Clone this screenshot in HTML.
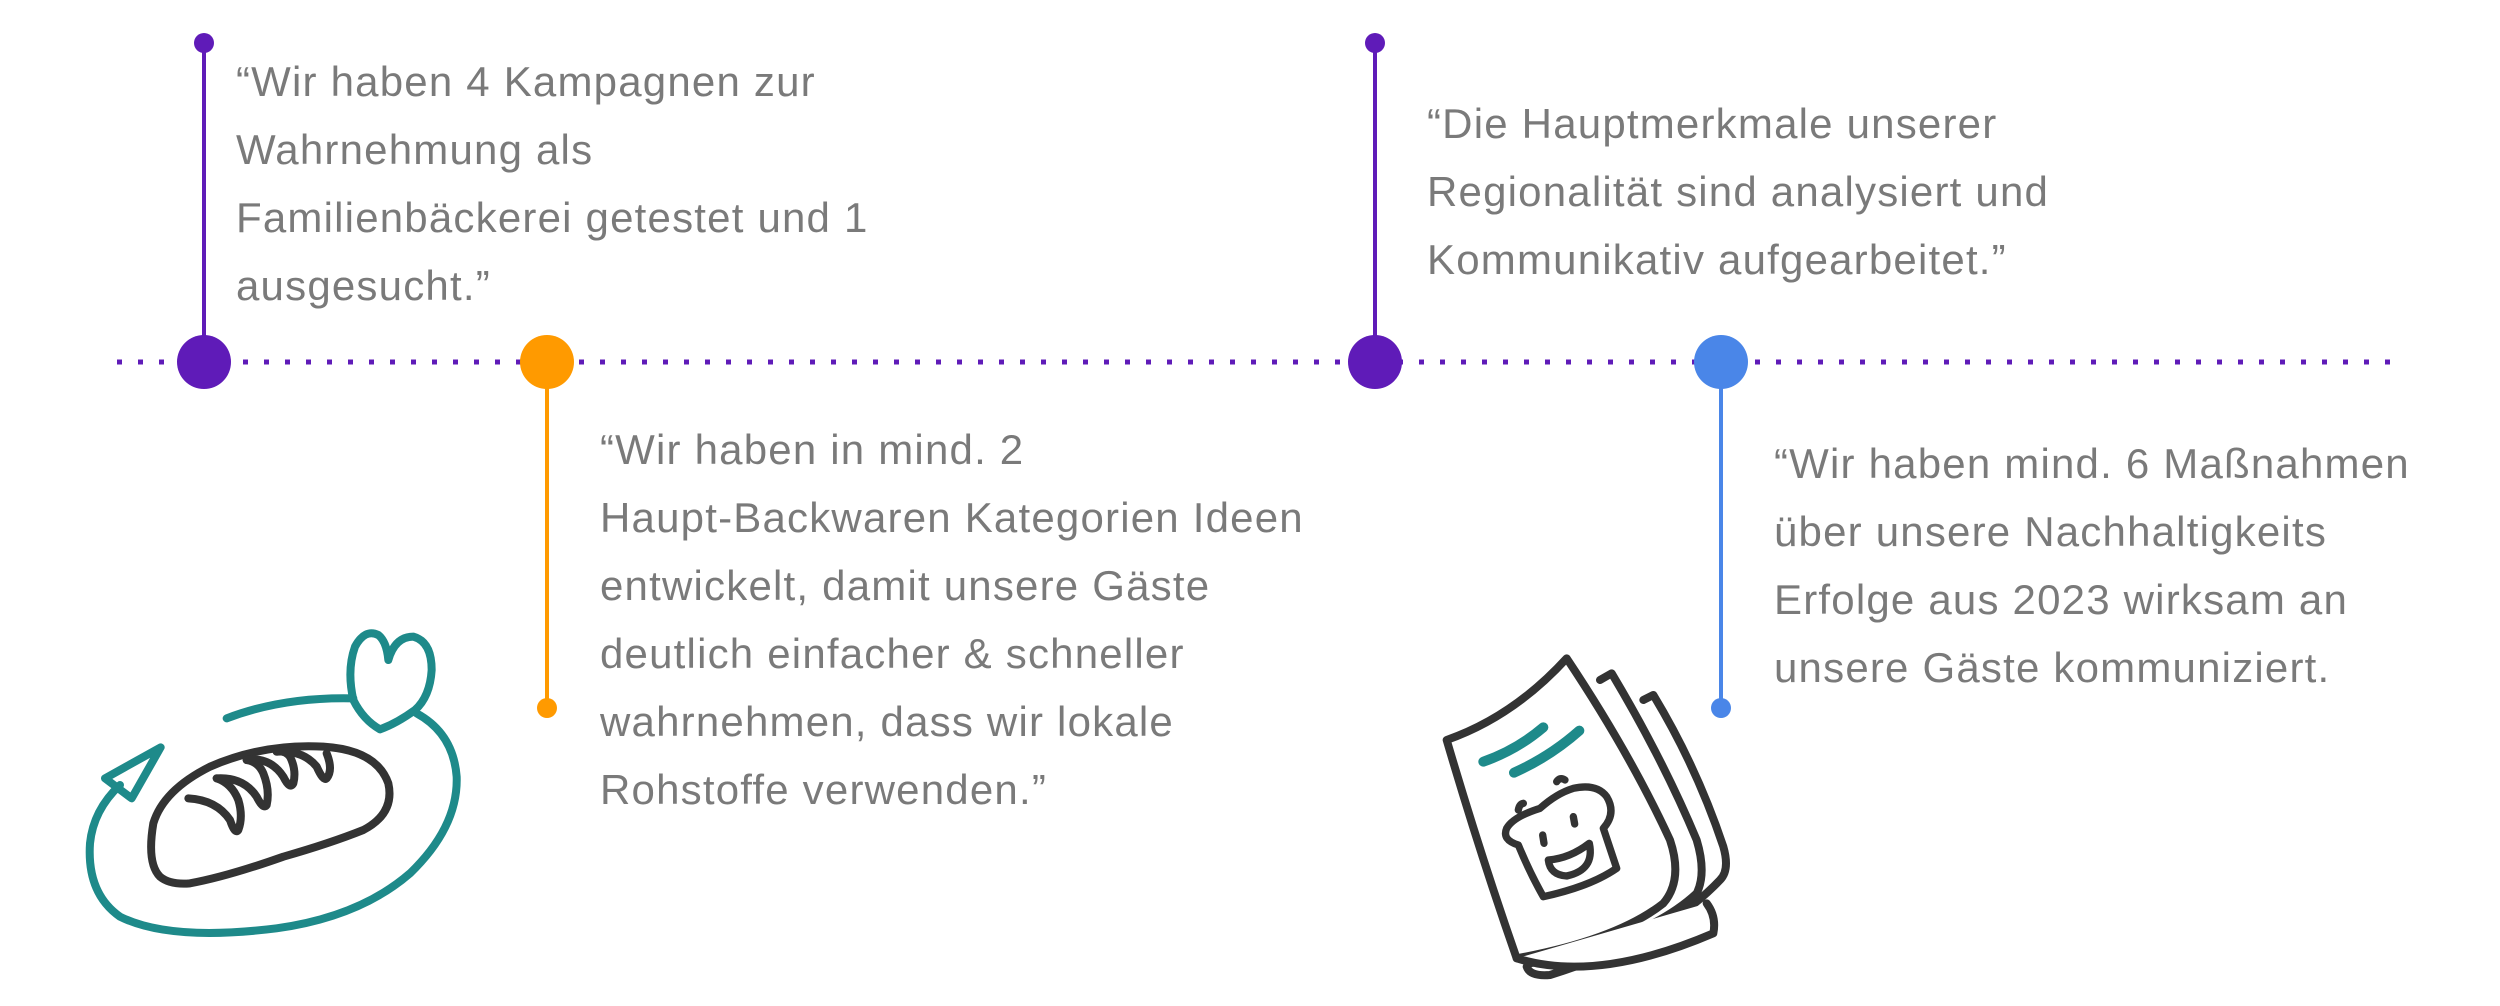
<!DOCTYPE html>
<html><head><meta charset="utf-8">
<style>
html,body{margin:0;padding:0;background:#fff;}
#c{position:relative;width:2500px;height:1006px;overflow:hidden;background:#fff;}
.t{position:absolute;font-family:"Liberation Sans",sans-serif;font-size:42px;letter-spacing:1.2px;line-height:68px;color:#7a7a7a;white-space:nowrap;}
svg{position:absolute;left:0;top:0;}
</style></head><body><div id="c">
<svg width="2500" height="1006" viewBox="0 0 2500 1006">
  <line x1="117" y1="362" x2="2392" y2="362" stroke="#5f1bb8" stroke-width="5" stroke-dasharray="5 16"/>
  <line x1="204" y1="43" x2="204" y2="362" stroke="#5f1bb8" stroke-width="4"/>
  <circle cx="204" cy="43" r="10" fill="#5f1bb8"/>
  <circle cx="204" cy="362" r="27" fill="#5f1bb8"/>
  <line x1="547" y1="362" x2="547" y2="708" stroke="#ff9a00" stroke-width="4"/>
  <circle cx="547" cy="708" r="10" fill="#ff9a00"/>
  <circle cx="547" cy="362" r="27" fill="#ff9a00"/>
  <line x1="1375" y1="43" x2="1375" y2="362" stroke="#5f1bb8" stroke-width="4"/>
  <circle cx="1375" cy="43" r="10" fill="#5f1bb8"/>
  <circle cx="1375" cy="362" r="27" fill="#5f1bb8"/>
  <line x1="1721" y1="362" x2="1721" y2="708" stroke="#4a86e8" stroke-width="4"/>
  <circle cx="1721" cy="708" r="10" fill="#4a86e8"/>
  <circle cx="1721" cy="362" r="27" fill="#4a86e8"/>
</svg>

<svg style="left:70px;top:610px" width="420" height="340" viewBox="0 0 1260 1020">
  <g fill="none" stroke="#1e8a8a" stroke-width="24" stroke-linecap="round" stroke-linejoin="round">
    <path d="M470,325 Q640,260 850,265"/>
    <path d="M850,270 Q830,180 855,110 Q885,55 925,75 Q950,95 955,150 Q975,80 1030,80 Q1085,95 1085,180 Q1080,260 1035,300 Q980,340 930,358 Q880,330 850,270 Z"/>
    <path d="M1040,310 Q1150,370 1160,500 Q1165,650 1020,790 Q870,920 620,955 Q300,995 150,920 Q50,850 60,700 Q70,600 150,525"/>
    <path d="M105,505 L272,412 L185,565 Z"/>
  </g>
  <g fill="none" stroke="#333" stroke-width="24" stroke-linecap="round" stroke-linejoin="round">
    <path d="M270,800 Q230,760 250,640 Q280,540 420,470 Q580,400 760,410 Q920,420 955,520 Q975,610 880,660 Q780,700 640,740 Q470,800 360,820 Q300,825 270,800 Z"/>
    <path d="M355,565 Q440,570 480,630 Q495,675 505,660 Q520,620 505,570 Q485,520 440,505"/>
    <path d="M440,505 Q520,500 560,560 Q580,600 590,585 Q600,540 580,490 Q565,455 530,450"/>
    <path d="M530,450 Q600,440 640,500 Q660,540 670,520 Q680,480 660,440 Q645,420 620,425"/>
    <path d="M620,425 Q700,420 740,470 Q760,515 770,505 Q790,480 770,430"/>
  </g>
</svg>

<svg style="left:1430px;top:640px" width="320" height="360" viewBox="0 0 960 1080">
  <g fill="#fff" stroke="#333" stroke-width="24" stroke-linejoin="round" stroke-linecap="round">
    <path d="M640,180 L670,165 Q800,380 880,620 Q900,690 870,720 Q700,900 360,1005 Q300,1010 290,980"/>
    <path d="M510,120 L545,100 Q700,360 800,600 Q830,700 800,760 Q650,900 300,970"/>
    <path d="M50,300 Q250,230 410,55 Q600,340 720,600 Q760,720 700,790 Q560,900 260,955 Q150,640 50,300 Z"/>
    <path d="M260,955 Q500,1030 850,880 Q860,830 830,790"/>
  </g>
  <g fill="none" stroke="#1e8a8a" stroke-width="30" stroke-linecap="round">
    <path d="M160,365 Q260,330 340,262"/>
    <path d="M252,398 Q360,350 448,272"/>
  </g>
  <g fill="none" stroke="#333" stroke-width="22" stroke-linecap="round" stroke-linejoin="round">
    <path d="M265,615 Q215,600 230,565 Q250,530 330,505 Q380,460 430,445 Q500,430 530,470 Q560,520 520,565 Q545,640 560,685 Q480,740 340,770 Q300,700 265,615 Z"/>
    <path d="M265,510 Q268,492 280,490"/>
    <path d="M380,425 Q390,410 405,420"/>
    <path d="M338,585 L342,610"/>
    <path d="M430,530 L434,552"/>
    <path d="M355,660 Q420,655 478,610 Q495,690 410,708 Q360,705 355,660 Z"/>
  </g>
</svg>

<div class="t" style="left:236px;top:48px">“Wir haben 4 Kampagnen zur<br>Wahrnehmung als<br>Familienbäckerei getestet und 1<br>ausgesucht.”</div>
<div class="t" style="left:600px;top:416px">“Wir haben in mind. 2<br>Haupt-Backwaren Kategorien Ideen<br>entwickelt, damit unsere Gäste<br>deutlich einfacher &amp; schneller<br>wahrnehmen, dass wir lokale<br>Rohstoffe verwenden.”</div>
<div class="t" style="left:1427px;top:90px">“Die Hauptmerkmale unserer<br>Regionalität sind analysiert und<br>Kommunikativ aufgearbeitet.”</div>
<div class="t" style="left:1774px;top:430px">“Wir haben mind. 6 Maßnahmen<br>über unsere Nachhaltigkeits<br>Erfolge aus 2023 wirksam an<br>unsere Gäste kommuniziert.</div>
</div></body></html>
